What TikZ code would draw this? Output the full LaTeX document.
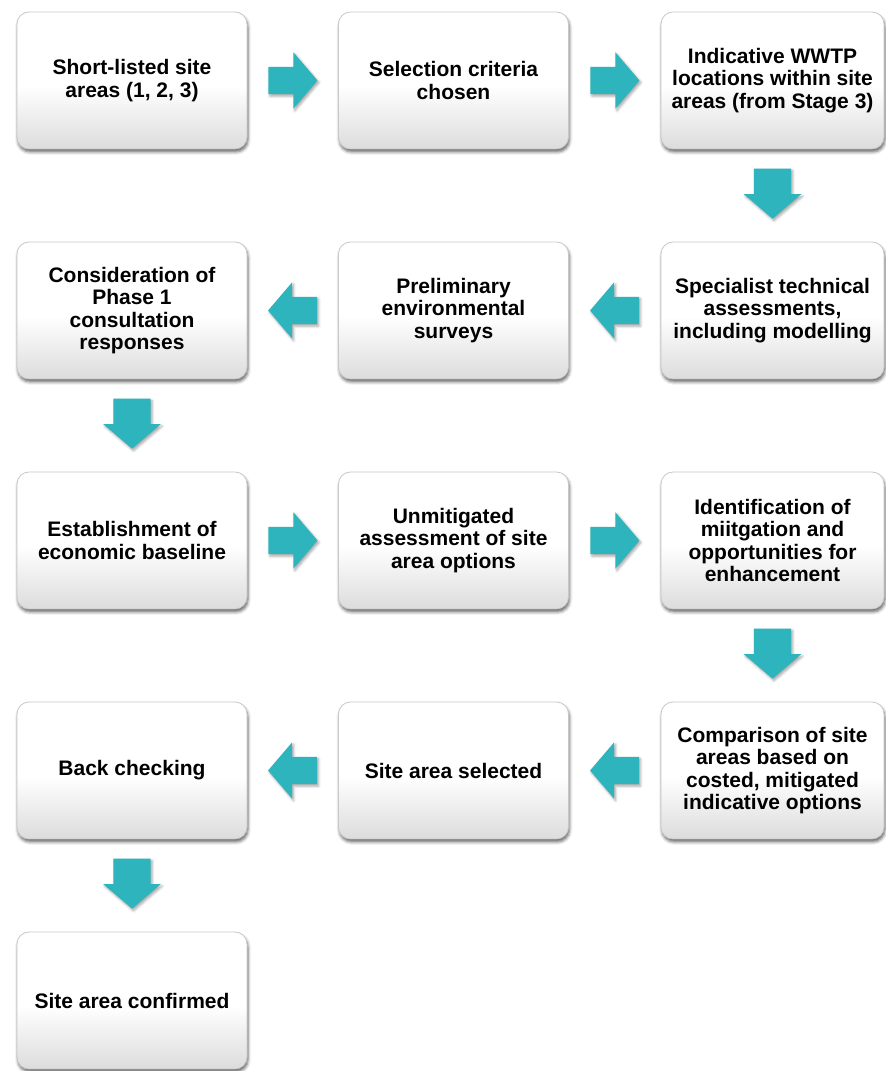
\documentclass[tikz,border=0pt]{standalone}
\usepackage{fontspec}
\setmainfont{Liberation Sans}
\usetikzlibrary{shapes.arrows,shadows.blur,calc}

\definecolor{teal}{RGB}{46,180,188}
\definecolor{boxbot}{RGB}{220,220,220}
\definecolor{boxline}{RGB}{200,200,200}

% white upper half fading into light grey at the bottom
\pgfdeclareverticalshading{boxshade}{100bp}{%
  color(0bp)=(boxbot); color(25bp)=(boxbot); color(48bp)=(white);
  color(75bp)=(white); color(100bp)=(white)}

\tikzset{
  stage/.style={
    rectangle, rounded corners=12pt, draw=boxline, line width=0.8pt,
    shading=boxshade, minimum width=230pt, minimum height=137pt,
    align=center, inner sep=4pt,
    font=\fontsize{21}{22.5}\selectfont\bfseries,
    blur shadow={shadow xshift=1pt, shadow yshift=-3pt,
                 shadow blur radius=3pt, shadow opacity=60}},
  narrowstage/.style={stage, minimum width=223pt},
  flowarrow/.style={
    single arrow, fill=teal, draw=none, inner sep=0pt, anchor=tail,
    single arrow head indent=0pt,
    blur shadow={shadow xshift=1.5pt, shadow yshift=-2pt,
                 shadow blur radius=2.5pt, shadow opacity=35}},
  rightarrow/.style={flowarrow, inner ysep=13.5pt, inner xsep=0pt,
    minimum height=49pt, single arrow head extend=14.5pt,
    single arrow tip angle=99},
  leftarrow/.style={rightarrow, shape border rotate=180},
  downarrow/.style={flowarrow, inner ysep=18.5pt, inner xsep=0pt,
    minimum height=50pt, single arrow head extend=10pt,
    single arrow tip angle=99, rotate=-90},
}

\begin{document}
\begin{tikzpicture}[x=1pt,y=1pt]
\useasboundingbox (0,0) rectangle (886,1071);

% row 1
\node[stage]       (s1) at (132,990.5)   {Short-listed site\\areas (1, 2, 3)};
\node[stage]       (s2) at (453.5,990.5) {Selection criteria\\chosen};
\node[narrowstage] (s3) at (772.5,990.5) {Indicative WWTP\\locations within site\\areas (from Stage 3)};
% row 2
\node[narrowstage] (s4) at (772.5,760.5) {Specialist technical\\assessments,\\including modelling};
\node[stage]       (s5) at (453.5,760.5) {Preliminary\\environmental\\surveys};
\node[stage]       (s6) at (132,760.5)   {Consideration of\\Phase 1\\consultation\\responses};
% row 3
\node[stage]       (s7) at (132,530.5)   {Establishment of\\economic baseline};
\node[stage]       (s8) at (453.5,530.5) {Unmitigated\\assessment of site\\area options};
\node[narrowstage] (s9) at (772.5,530.5) {Identification of\\miitgation and\\opportunities for\\enhancement};
% row 4
\node[narrowstage] (s10) at (772.5,300.5) {Comparison of site\\areas based on\\costed, mitigated\\indicative options};
\node[stage]       (s11) at (453.5,300.5) {Site area selected};
\node[stage]       (s12) at (132,300.5)   {Back checking};
% row 5
\node[stage]       (s13) at (132,70.5)    {Site area confirmed};

% block arrows between consecutive stages, each centred in its gap
\node[rightarrow] (a1)  at ($(s1.east)!0.5!(s2.west)+(-24.5,0)$) {};
\node[rightarrow] (a2)  at ($(s2.east)!0.5!(s3.west)+(-24.5,0)$) {};
\node[downarrow]  (a3)  at ($(s3.south)!0.5!(s4.north)+(0,27)$) {};
\node[leftarrow]  (a4)  at ($(s4.west)!0.5!(s5.east)+(24.5,0)$) {};
\node[leftarrow]  (a5)  at ($(s5.west)!0.5!(s6.east)+(24.5,0)$) {};
\node[downarrow]  (a6)  at ($(s6.south)!0.5!(s7.north)+(0,27)$) {};
\node[rightarrow] (a7)  at ($(s7.east)!0.5!(s8.west)+(-24.5,0)$) {};
\node[rightarrow] (a8)  at ($(s8.east)!0.5!(s9.west)+(-24.5,0)$) {};
\node[downarrow]  (a9)  at ($(s9.south)!0.5!(s10.north)+(0,27)$) {};
\node[leftarrow]  (a10) at ($(s10.west)!0.5!(s11.east)+(24.5,0)$) {};
\node[leftarrow]  (a11) at ($(s11.west)!0.5!(s12.east)+(24.5,0)$) {};
\node[downarrow]  (a12) at ($(s12.south)!0.5!(s13.north)+(0,27)$) {};
\end{tikzpicture}
\end{document}
